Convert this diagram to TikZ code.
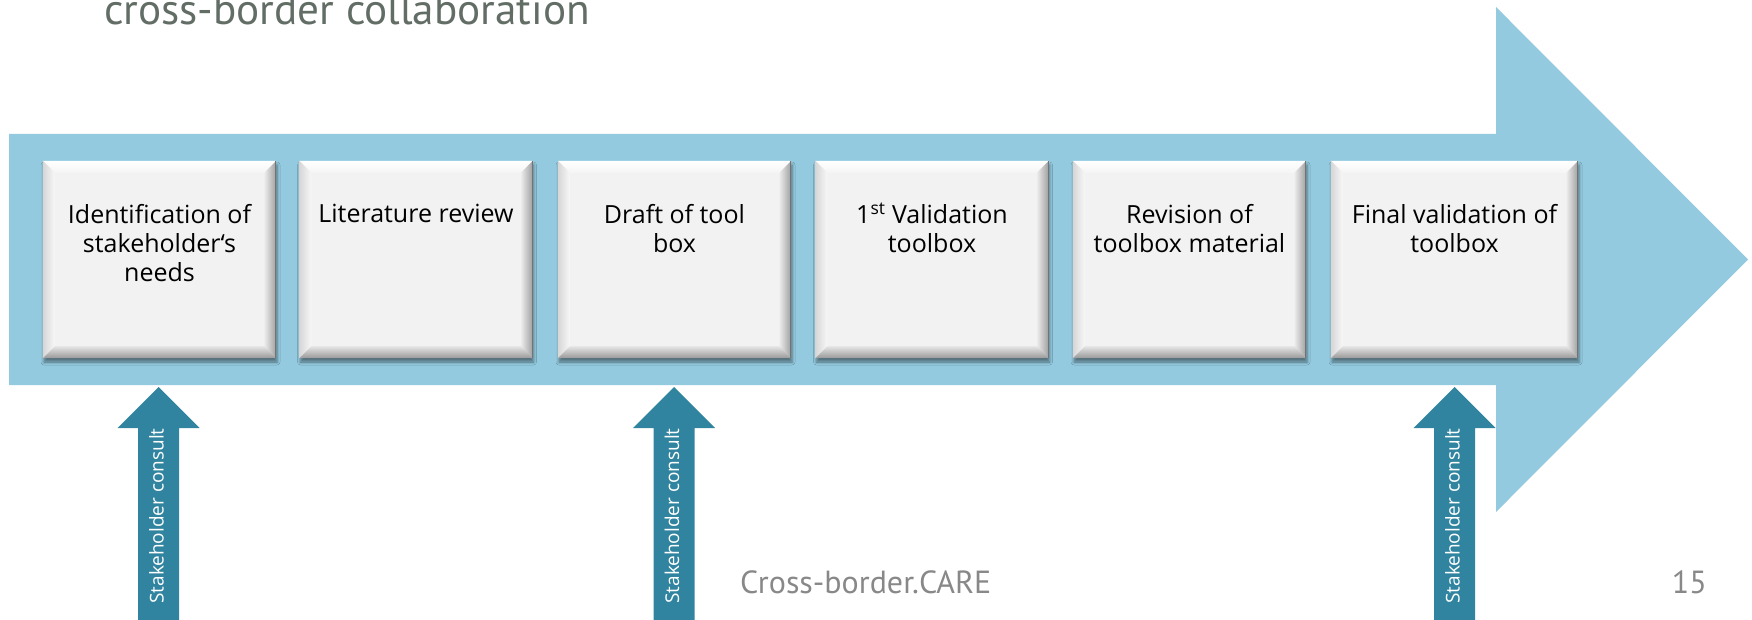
\documentclass[tikz,border=0pt]{standalone}
\usepackage{fontspec}
\setmainfont{Open Sans}
\newfontfamily\ptsans{PT Sans}
\usetikzlibrary{calc,shadows.blur}
\definecolor{lightblue}{HTML}{93CADF}
\definecolor{darkteal}{HTML}{31849F}
\definecolor{boxfill}{HTML}{F2F2F2}
\definecolor{titlegray}{HTML}{626D66}
\definecolor{footgray}{HTML}{888888}
\tikzset{
  stepbox/.style={draw=none, fill=boxfill, minimum height=197pt, inner sep=0pt,
    blur shadow={shadow xshift=1pt, shadow yshift=-4pt, shadow blur radius=3pt, shadow opacity=45}},
  boxtext/.style={anchor=north, align=center, inner sep=0pt, font=\fontsize{25}{29}\selectfont, text=black},
  consult/.style={fill=darkteal, draw=none},
  consulttext/.style={rotate=90, anchor=base, inner sep=0pt, text=white, font=\fontsize{19}{22}\selectfont},
  bigarrow/.style={fill=lightblue, draw=none},
  foottext/.style={inner sep=0pt, text=footgray, font=\ptsans\fontsize{32}{36}\selectfont},
}
\newcommand\bevelbox[1]{%
  \shade[top color=white, bottom color=white!96!black] (#1.north west) -- (#1.north east) -- ($(#1.north east)+(-12,12)$) -- ($(#1.north west)+(12,12)$) -- cycle;
  \shade[left color=black!16, right color=white!97!black] (#1.north west) -- ($(#1.north west)+(12,12)$) -- ($(#1.south west)+(12,-12)$) -- (#1.south west) -- cycle;
  \shade[left color=white!93!black, right color=black!38] (#1.north east) -- ($(#1.north east)+(-12,12)$) -- ($(#1.south east)+(-12,-12)$) -- (#1.south east) -- cycle;
  \shade[top color=white!90!black, bottom color=black!40] (#1.south west) -- ($(#1.south west)+(12,-12)$) -- ($(#1.south east)+(-12,-12)$) -- (#1.south east) -- cycle;
  \draw[black!55, line width=1.2pt] ($(#1.north east)+(-0.6,0)$) -- ($(#1.south east)+(-0.6,0)$);
}
\begin{document}
\begin{tikzpicture}[x=1pt, y=-1pt]
\useasboundingbox (0,0) rectangle (1752,620);
% big process arrow
\fill[bigarrow] (9,134) -- (1496,134) -- (1496,7) -- (1748,259.5) -- (1496,512) -- (1496,385) -- (9,385) -- cycle;
% step boxes
\node[stepbox, minimum width=233pt] (b1) at (159.5,259.5) {};
\node[stepbox, minimum width=233pt] (b2) at (416,259.5) {};
\node[stepbox, minimum width=233pt] (b3) at (674.5,259.5) {};
\node[stepbox, minimum width=233pt] (b4) at (932,259.5) {};
\node[stepbox, minimum width=233pt] (b5) at (1189.5,259.5) {};
\node[stepbox, minimum width=247pt] (b6) at (1454.5,259.5) {};
\foreach \b in {b1,b2,b3,b4,b5,b6} {\bevelbox{\b}}
\node[boxtext] (t1) at ($(b1.north)+(0,43)$) {Identification of\\stakeholder‘s\\needs};
\node[boxtext] (t2) at ($(b2.north)+(0,43)$) {Literature review};
\node[boxtext] (t3) at ($(b3.north)+(0,43)$) {Draft of tool\\box};
\node[boxtext] (t4) at ($(b4.north)+(0,42)$) {1\textsuperscript{st} Validation\\toolbox};
\node[boxtext] (t5) at ($(b5.north)+(0,43)$) {Revision of\\toolbox material};
\node[boxtext] (t6) at ($(b6.north)+(0,43)$) {Final validation of\\toolbox};
% stakeholder consultation arrows
\foreach \cx/\i in {158.5/1, 674/2, 1454.5/3} {
  \coordinate (tip\i) at (\cx,387);
  \fill[consult] (tip\i) -- ++(41,41) -- ++(-20.5,0) -- ++(0,205) -- ++(-41,0) -- ++(0,-205) -- ++(-20.5,0) -- cycle;
  \node[consulttext] (s\i) at (\cx+5,516) {Stakeholder consult};
}
% title and footer
\node[anchor=base west, inner sep=0pt, text=titlegray, font=\ptsans\fontsize{43.2}{48}\selectfont] (title) at (104,25) {cross-border collaboration};
\node[foottext, anchor=base west] (foot) at (740,593) {Cross-border.CARE};
\node[foottext, anchor=base east] (page) at (1707,593) {15};
\end{tikzpicture}
\end{document}
